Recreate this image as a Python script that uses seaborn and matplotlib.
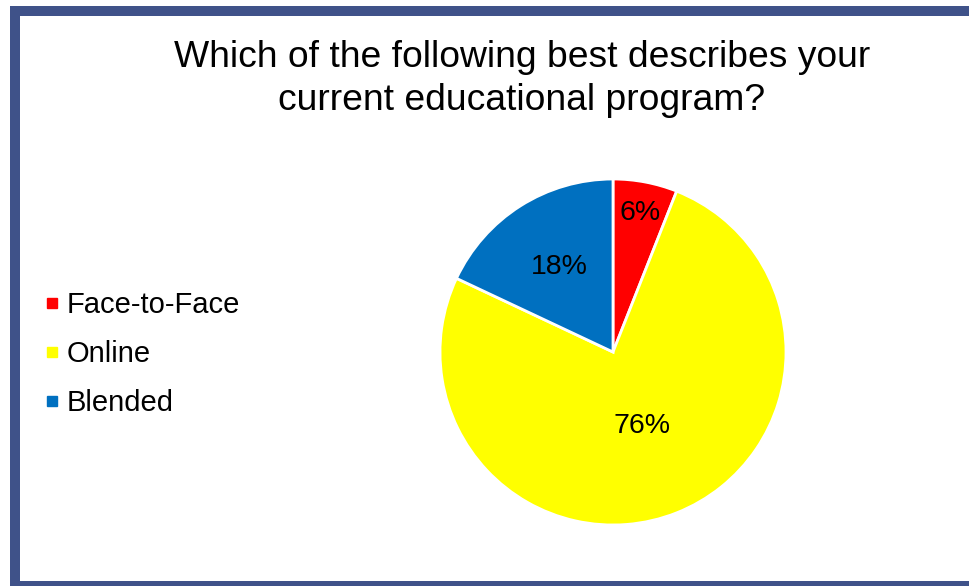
import numpy as np
import matplotlib
matplotlib.use("Agg")
import matplotlib.pyplot as plt
import seaborn as sns
from matplotlib.patches import Rectangle
from matplotlib.lines import Line2D

categories = ["Face-to-Face", "Online", "Blended"]
values = [6, 76, 18]
colors = ["#FF0000", "#FFFF00", "#0070C0"]
title = "Which of the following best describes your\ncurrent educational program?"

sns.set_theme(style="white")
plt.rcParams['font.family'] = ['Liberation Sans', 'DejaVu Sans']
plt.rcParams['text.color'] = 'black'

W, H = 969, 586
fig = plt.figure(figsize=(W / 100, H / 100), dpi=100)
fig.patch.set_facecolor("white")

# border
fig.patches.append(Rectangle((15 / W, 0), (975 - 15) / W, (H - 11) / H,
                             transform=fig.transFigure, fill=False,
                             edgecolor="#3F5289", linewidth=7.2, zorder=0))

cx, cy, r = 613, 352, 173
ax = fig.add_axes([(cx - r) / W, 1 - (cy + r) / H, 2 * r / W, 2 * r / H])
wedges, _ = ax.pie(values, colors=colors, startangle=90, counterclock=False,
                   wedgeprops=dict(edgecolor="white", linewidth=2))
ax.set_xlim(-1, 1)
ax.set_ylim(-1, 1)
ax.set_aspect("auto")
ax.axis("off")

dists = [0.82, 0.46, 0.58]
for w, v, d in zip(wedges, values, dists):
    th = np.deg2rad((w.theta1 + w.theta2) / 2)
    ax.text(d * np.cos(th), d * np.sin(th), f"{v}%", ha="center", va="center",
            fontsize=20.5, color="black")

fig.text(522 / W, 1 - 79 / H, title, ha="center", va="center",
         fontsize=26.8, linespacing=1.3, color="black")

handles = [Line2D([0], [0], marker="s", linestyle="none", markersize=7.5,
                  markerfacecolor=c, markeredgecolor=c) for c in colors]
leg = fig.legend(handles, categories, loc="center left",
                 bbox_to_anchor=(14 / W, 1 - 354 / H), frameon=False,
                 fontsize=21, handletextpad=0.1, labelspacing=0.72,
                 handlelength=0.8, labelcolor="black")

fig.savefig("out.png", dpi=100)
